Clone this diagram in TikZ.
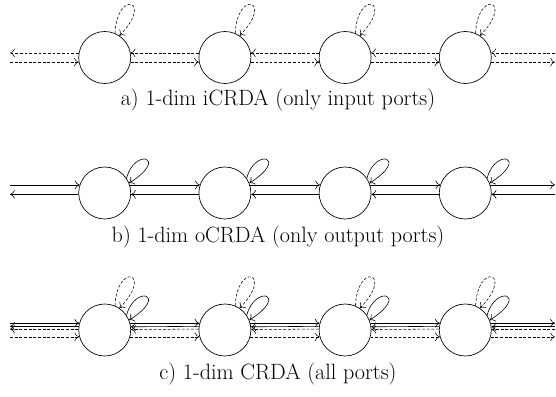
\documentclass[tikz,border=0pt]{standalone}
\usetikzlibrary{arrows.meta}
\begin{document}
\begin{tikzpicture}[x=0.75pt,y=-0.75pt,
  >={Computer Modern Rightarrow[length=3.6pt,width=6.4pt]},
  cell/.style={draw,circle,minimum size=52*0.75pt,inner sep=0pt,line width=0.5pt},
  port/.style={->,line width=0.45pt},
  dport/.style={->,line width=0.4pt,dash pattern=on 2.2pt off 1.3pt},
  lbl/.style={font=\fontsize{16.6pt}{19pt}\selectfont,inner sep=0pt}]
\useasboundingbox (0,0) rectangle (556,396);
% free ends
\coordinate (L) at (10,0);
\coordinate (R) at (555,0);
% circles
\foreach \r/\y in {a/57.5,b/193,c/330}{
  \foreach \i in {1,...,4}{
    \node[cell] (\r\i) at ({104.7+120.2*(\i-1)},\y) {};
  }
}
% ---------- row a: input ports (dashed) ----------
\draw[dport] (a1.170) -- (a1.170 -| L);
\draw[dport] (a1.190 -| L) -- (a1.190);
\foreach \i/\j in {1/2,2/3,3/4}{
  \draw[dport] (a\j.170) -- (a\i.10);
  \draw[dport] (a\i.-10) -- (a\j.190);
}
\draw[dport] (a4.10 -| R) -- (a4.10);
\draw[dport] (a4.-10) -- (a4.-10 -| R);
\foreach \i in {1,...,4}{
  \draw[dport] (a\i.67) .. controls +(2,-44) and +(35,-36) .. (a\i.56);
}
% ---------- row b: output ports (solid) ----------
\draw[port] (b1.162 -| L) -- (b1.162);
\draw[port] (b1.183) -- (b1.183 -| L);
\foreach \i/\j in {1/2,2/3,3/4}{
  \draw[port] (b\i.18) -- (b\j.162);
  \draw[port] (b\j.183) -- (b\i.-3);
}
\draw[port] (b4.18) -- (b4.18 -| R);
\draw[port] (b4.-3 -| R) -- (b4.-3);
\foreach \i in {1,...,4}{
  \draw[port] (b\i.34) .. controls +(8,-31) and +(41,-26) .. (b\i.22);
}
% ---------- row c: all ports ----------
\draw[port] (c1.165 -| L) -- (c1.165);
\draw[port] (c1.172.5) -- (c1.172.5 -| L);
\draw[dport] (c1.178.5) -- (c1.178.5 -| L);
\draw[dport] (c1.195 -| L) -- (c1.195);
\foreach \i/\j in {1/2,2/3,3/4}{
  \draw[port] (c\i.15) -- (c\j.165);
  \draw[port] (c\j.172.5) -- (c\i.7.5);
  \draw[dport] (c\j.178.5) -- (c\i.1.5);
  \draw[dport] (c\i.-15) -- (c\j.195);
}
\draw[port] (c4.15) -- (c4.15 -| R);
\draw[port] (c4.7.5 -| R) -- (c4.7.5);
\draw[dport] (c4.1.5 -| R) -- (c4.1.5);
\draw[dport] (c4.-15) -- (c4.-15 -| R);
\foreach \i in {1,...,4}{
  \draw[dport] (c\i.67) .. controls +(2,-44) and +(35,-36) .. (c\i.56);
  \draw[port] (c\i.34) .. controls +(8,-31) and +(41,-26) .. (c\i.22);
}
% labels
\node[lbl] (la) at (278,100) {a) 1-dim iCRDA (only input ports)};
\node[lbl] (lb) at (278,237) {b) 1-dim oCRDA (only output ports)};
\node[lbl] (lc) at (278,374) {c) 1-dim CRDA (all ports)};
\end{tikzpicture}
\end{document}
